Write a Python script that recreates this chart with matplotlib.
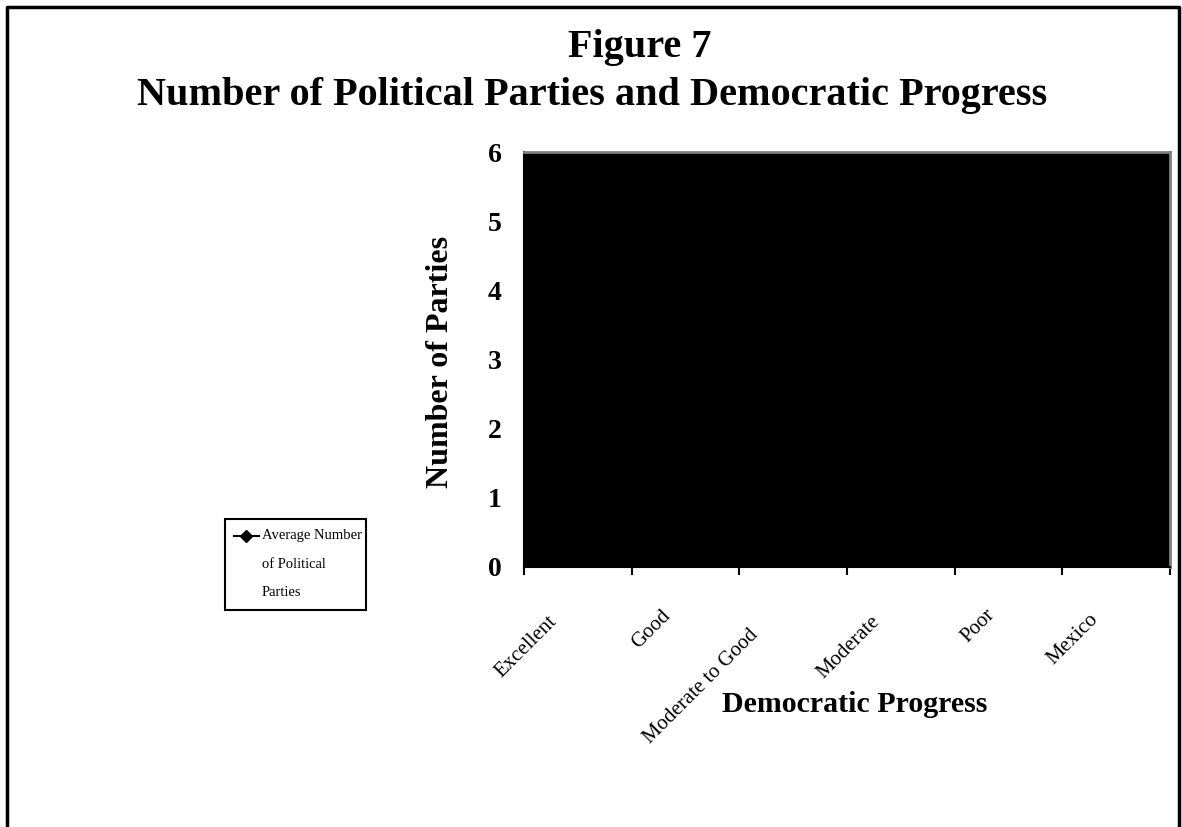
import matplotlib
matplotlib.use("Agg")
import matplotlib.pyplot as plt
import matplotlib.transforms as mtransforms
from matplotlib.lines import Line2D
from matplotlib.patches import Rectangle
from matplotlib.textpath import TextPath
from matplotlib.font_manager import FontProperties

plt.rcParams['font.family'] = ['Liberation Serif', 'DejaVu Serif']

# democratic progress groups and average party counts
categories = ["Excellent", "Good", "Moderate to Good", "Moderate", "Poor", "Mexico"]
avg_parties = [3.5, 4.0, 3.2, 2.9, 2.6, 3.0]
y_ticks = [0, 1, 2, 3, 4, 5, 6]
legend_lines = ["Average Number", "of Political", "Parties"]

W, H = 1182, 827
fig = plt.figure(figsize=(W / 100, H / 100), dpi=100)

def fx(px):
    return px / W

def fy(py):
    return 1 - py / H

# outer frame (open at the bottom)
fig.add_artist(Line2D([fx(7), fx(7), fx(1179), fx(1179)],
                      [fy(840), fy(7), fy(7), fy(840)],
                      color='black', lw=2.5, transform=fig.transFigure))

fig.text(fx(640), fy(48), "Figure 7", ha='center', va='center',
         fontsize=29, fontweight='bold')
fig.text(fx(592), fy(96), "Number of Political Parties and Democratic Progress",
         ha='center', va='center', fontsize=29, fontweight='bold')

ax = fig.add_axes([fx(524), fy(567), fx(1170) - fx(524), fy(152) - fy(567)])
ax.set_facecolor('black')
x = list(range(len(categories)))
ax.plot(x, avg_parties, color='black', marker='D', markersize=7, lw=1.5)

ax.set_xlim(-0.5, len(categories) - 0.5)
ax.set_ylim(0, 6)
ax.set_yticks(y_ticks)
ax.set_yticklabels([str(v) for v in y_ticks], fontsize=20, fontweight='bold')
ax.tick_params(axis='y', length=0, pad=16)

ax.set_xticks(x)
ax.set_xticklabels([])
ax.set_xticks([i - 0.5 for i in range(len(categories) + 1)], minor=True)
ax.tick_params(axis='x', which='major', length=0)
ax.tick_params(axis='x', which='minor', length=6, width=1.5, direction='out', color='black')

for side in ['top', 'right']:
    ax.spines[side].set_color('#808080')
    ax.spines[side].set_linewidth(2)
for side in ['left', 'bottom']:
    ax.spines[side].set_color('black')
    ax.spines[side].set_linewidth(1.5)

# rotated category labels, shifted down-left a bit more for longer text
lab_size = 15
fp = FontProperties(family='Liberation Serif', size=lab_size)
xform = mtransforms.blended_transform_factory(ax.transData, ax.transAxes)
for i, lab in enumerate(categories):
    L = TextPath((0, 0), lab, prop=fp).get_extents().width / 0.72
    dx = (-10 - 0.18 * L) * 0.72
    dy = (-38 - 0.18 * L) * 0.72
    off = mtransforms.ScaledTranslation(dx / 72, dy / 72, fig.dpi_scale_trans)
    ax.text(i, 0, lab, transform=xform + off, rotation=45, rotation_mode='anchor',
            ha='right', va='center', fontsize=lab_size)

fig.text(fx(440), fy(362), "Number of Parties", rotation=90, ha='center', va='center',
         fontsize=23, fontweight='bold')
fig.text(fx(855), fy(705), "Democratic Progress", ha='center', va='center',
         fontsize=21.5, fontweight='bold')

# legend box
fig.add_artist(Rectangle((fx(225), fy(610)), fx(366) - fx(225), fy(519) - fy(610),
                         transform=fig.transFigure, facecolor='white',
                         edgecolor='black', lw=1.5))
fig.add_artist(Line2D([fx(234), fx(259)], [fy(536), fy(536)], color='black', lw=1.5,
                      transform=fig.transFigure))
fig.add_artist(Line2D([fx(246)], [fy(536)], color='black', marker='D', markersize=6,
                      transform=fig.transFigure))
for k, line in enumerate(legend_lines):
    fig.text(fx(262), fy(536 + 28 * k), line, ha='left', va='center', fontsize=10.5)

fig.savefig("out.png", dpi=100)
